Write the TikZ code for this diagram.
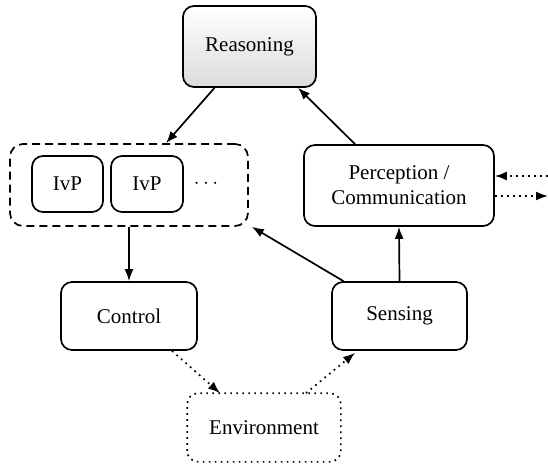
\documentclass[tikz,border=0pt]{standalone}
\usepackage{fontspec}
\setmainfont{Liberation Serif}
\usetikzlibrary{arrows.meta,calc}
\begin{document}
\begin{tikzpicture}[x=1pt,y=1pt,
  box/.style={draw,line width=1.7pt,rounded corners=11pt,align=center,inner sep=0pt,font=\fontsize{21}{25}\selectfont},
  arr/.style={line width=1.7pt,-{Latex[length=12pt,width=9pt]}},
  dotarr/.style={line width=1.7pt,dash pattern=on 1.7pt off 4.3pt,-{Latex[length=12pt,width=9pt]}}]
\useasboundingbox (0,0) rectangle (548,-468);
\node[box,top color=white,bottom color=black!14,minimum width=133,minimum height=81] (reas) at (249.5,-46.5) {Reasoning};
\node[draw,line width=1.7pt,dash pattern=on 8pt off 5pt,rounded corners=13pt,minimum width=238,minimum height=82] (grp) at (129,-185) {};
\node[box,minimum width=71,minimum height=56] (ivp1) at (67.5,-184) {IvP};
\node[box,minimum width=72,minimum height=56] (ivp2) at (147,-184) {IvP};
\node[font=\fontsize{21}{25}\selectfont] (dots) at (206,-184) {$\cdots$};
\node[box,minimum width=190,minimum height=81] (perc) at (399,-185.5) {Perception /\\Communication};
\node[box,minimum width=136,minimum height=68] (ctrl) at (129,-316) {Control};
\node[box,minimum width=135,minimum height=68] (sens) at (399.5,-316) {\raisebox{-2pt}{Sensing}};
\node[box,draw=none,minimum width=152,minimum height=67] (env) at (264,-427.5) {Environment};
\draw[line width=1.7pt,dash pattern=on 1.7pt off 4.3pt,rounded corners=11pt] (env.south west) rectangle (env.north east);
\coordinate (inS) at (548,-176);
\coordinate (outE) at (548,-196);
\draw[arr] ($(reas.south)+(-35,0)$) -- ($(grp.north)+(37,0)$);
\draw[arr] ($(perc.north)+(-44,0)$) -- ($(reas.south)+(48.5,0)$);
\draw[arr] ($(sens.north)+(-56,0)$) -- ($(grp.south east)+(3,0)$);
\draw[arr] (sens.north) -- (perc.south);
\draw[arr] (grp.south) -- (ctrl.north);
\draw[dotarr] ($(ctrl.south)+(43,0)$) -- ($(env.north)+(-44,0)$);
\draw[dotarr] ($(env.north)+(42,0)$) -- ($(sens.south)+(-44.5,-2)$);
\draw[dotarr] (inS) -- (perc.east |- inS);
\draw[dotarr] (perc.east |- outE) -- (outE);
\end{tikzpicture}
\end{document}
